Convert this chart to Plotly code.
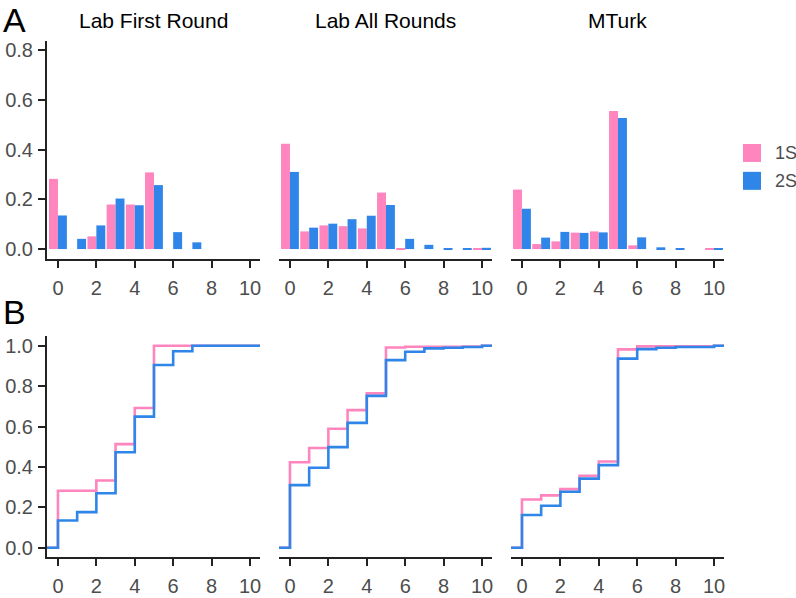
import plotly.graph_objects as go

# ---------------- data ----------------
SCORES = [0, 1, 2, 3, 4, 5, 6, 7, 8, 9, 10]
PANELS = ["Lab First Round", "Lab All Rounds", "MTurk"]
GROUPS = ["1S", "2S"]

# Panel A: share of responses at each score
LAB_FIRST_1S = [0.282, 0.0, 0.051, 0.179, 0.179, 0.308, 0.0, 0.0, 0.0, 0.0, 0.0]
LAB_FIRST_2S = [0.135, 0.041, 0.095, 0.203, 0.176, 0.257, 0.068, 0.027, 0.0, 0.0, 0.0]
LAB_ALL_1S = [0.423, 0.071, 0.095, 0.092, 0.083, 0.227, 0.004, 0.0, 0.0, 0.0, 0.004]
LAB_ALL_2S = [0.310, 0.086, 0.102, 0.120, 0.134, 0.177, 0.041, 0.017, 0.003, 0.004, 0.005]
MTURK_1S = [0.239, 0.020, 0.031, 0.066, 0.071, 0.555, 0.015, 0.0, 0.0, 0.0, 0.003]
MTURK_2S = [0.162, 0.046, 0.069, 0.065, 0.067, 0.527, 0.047, 0.007, 0.004, 0.0, 0.003]

# Panel B: cumulative share (empirical CDF) at each score
LAB_FIRST_CDF_1S = [0.282, 0.282, 0.333, 0.513, 0.692, 1.0, 1.0, 1.0, 1.0, 1.0, 1.0]
LAB_FIRST_CDF_2S = [0.135, 0.176, 0.270, 0.473, 0.649, 0.905, 0.973, 1.0, 1.0, 1.0, 1.0]
LAB_ALL_CDF_1S = [0.423, 0.494, 0.589, 0.681, 0.764, 0.991, 0.995, 0.995, 0.995, 0.996, 1.0]
LAB_ALL_CDF_2S = [0.310, 0.396, 0.498, 0.618, 0.752, 0.929, 0.970, 0.987, 0.990, 0.994, 1.0]
MTURK_CDF_1S = [0.239, 0.259, 0.290, 0.356, 0.427, 0.982, 0.997, 0.997, 0.997, 0.997, 1.0]
MTURK_CDF_2S = [0.162, 0.208, 0.277, 0.342, 0.409, 0.936, 0.983, 0.990, 0.994, 0.994, 1.0]

X_TICKS = [0, 2, 4, 6, 8, 10]
Y_TICKS_A = [0.0, 0.2, 0.4, 0.6, 0.8]
Y_TICKS_B = [0.0, 0.2, 0.4, 0.6, 0.8, 1.0]

# ---------------- style ----------------
PINK = "#FF85BE"
BLUE = "#2F86E8"
FONT = "Liberation Sans, Arial, sans-serif"
TICK_COLOR = "#4D4D4D"
AXIS_COLOR = "#222222"
TICK_SIZE = 20

bars = [(LAB_FIRST_1S, LAB_FIRST_2S), (LAB_ALL_1S, LAB_ALL_2S), (MTURK_1S, MTURK_2S)]
cdfs = [(LAB_FIRST_CDF_1S, LAB_FIRST_CDF_2S), (LAB_ALL_CDF_1S, LAB_ALL_CDF_2S),
        (MTURK_CDF_1S, MTURK_CDF_2S)]
COLORS = [PINK, BLUE]

fig = go.Figure()

x_domains = [[0.0, 0.3146], [0.3427, 0.6573], [0.6854, 1.0]]
top_dom = [0.5775, 1.0]
bot_dom = [0.0, 0.429]

for i, pair in enumerate(bars):
    ax = "" if i == 0 else str(i + 1)
    for vals, col, name in zip(pair, COLORS, GROUPS):
        fig.add_trace(go.Bar(x=SCORES, y=vals, marker=dict(color=col, line=dict(width=0)),
                             name=name, showlegend=False,
                             xaxis="x" + ax, yaxis="y" + ax))

for i, pair in enumerate(cdfs):
    ax = str(i + 4)
    for vals, col, name in zip(pair, COLORS, GROUPS):
        fig.add_trace(go.Scatter(x=[-1] + SCORES + [11], y=[0] + vals + [vals[-1]],
                                 mode="lines", line=dict(color=col, width=2.6, shape="hv"),
                                 name=name, showlegend=False,
                                 xaxis="x" + ax, yaxis="y" + ax))

layout = dict(
    width=796, height=598,
    margin=dict(l=47, r=72, t=41, b=41, autoexpand=False),
    paper_bgcolor="white", plot_bgcolor="white",
    barmode="group", bargap=0.07, bargroupgap=0.0,
    font=dict(family=FONT, size=TICK_SIZE, color=TICK_COLOR),
    showlegend=False,
)

def xaxis(dom, anchor):
    return dict(domain=dom, anchor=anchor, range=[-0.57, 10.52], tickvals=X_TICKS,
                showline=True, linecolor=AXIS_COLOR, linewidth=2, ticks="outside",
                ticklen=7, tickwidth=1.5, tickcolor=AXIS_COLOR, showgrid=False,
                zeroline=False, automargin=False, ticklabelstandoff=3,
                tickfont=dict(size=TICK_SIZE, color=TICK_COLOR, family=FONT))

def yaxis(dom, anchor, rng, tickvals, show):
    return dict(domain=dom, anchor=anchor, range=rng, tickvals=tickvals,
                tickformat=".1f", showline=show, linecolor=AXIS_COLOR, linewidth=2,
                ticks="outside" if show else "", ticklen=7, tickwidth=1.5,
                tickcolor=AXIS_COLOR, showticklabels=show, showgrid=False,
                zeroline=False, automargin=False, ticklabelstandoff=1,
                tickfont=dict(size=TICK_SIZE, color=TICK_COLOR, family=FONT))

for i in range(3):
    n = "" if i == 0 else str(i + 1)
    layout["xaxis" + n] = xaxis(x_domains[i], "y" + n)
    layout["yaxis" + n] = yaxis(top_dom, "x" + n, [-0.04, 0.836], Y_TICKS_A, i == 0)
    m = str(i + 4)
    layout["xaxis" + m] = xaxis(x_domains[i], "y" + m)
    layout["yaxis" + m] = yaxis(bot_dom, "x" + m, [-0.046, 1.05], Y_TICKS_B, i == 0)

annotations = []
for i, title in enumerate(PANELS):
    annotations.append(dict(text=title, x=sum(x_domains[i]) / 2, y=1.0, xref="paper",
                            yref="paper", xanchor="center", yanchor="bottom", yshift=7,
                            showarrow=False, font=dict(size=21, color="black", family=FONT)))
annotations.append(dict(text="A", x=-0.066, y=1.0795, xref="paper", yref="paper",
                        xanchor="left", yanchor="top", showarrow=False, borderpad=0,
                        font=dict(size=34, color="black", family=FONT)))
annotations.append(dict(text="B", x=-0.066, y=0.5136, xref="paper", yref="paper",
                        xanchor="left", yanchor="top", showarrow=False, borderpad=0,
                        font=dict(size=34, color="black", family=FONT)))

# legend (key squares + labels)
shapes = []
LEG_Y = [0.783, 0.729]
for name, col, ly in zip(GROUPS, COLORS, LEG_Y):
    shapes.append(dict(type="rect", xref="paper", yref="paper",
                       xsizemode="pixel", ysizemode="pixel",
                       xanchor=1.0281, yanchor=ly, x0=0, x1=18, y0=-9, y1=9,
                       fillcolor=col, line=dict(width=0)))
    annotations.append(dict(text=name, x=1.0724, y=ly, xref="paper", yref="paper",
                            xanchor="left", yanchor="middle", showarrow=False,
                            font=dict(size=18, color=TICK_COLOR, family=FONT)))

layout["annotations"] = annotations
layout["shapes"] = shapes

fig.update_layout(**layout)
fig.write_html("out.html", config={"displayModeBar": False},
               post_script="document.body.style.margin='0';document.body.style.overflow='hidden';")
